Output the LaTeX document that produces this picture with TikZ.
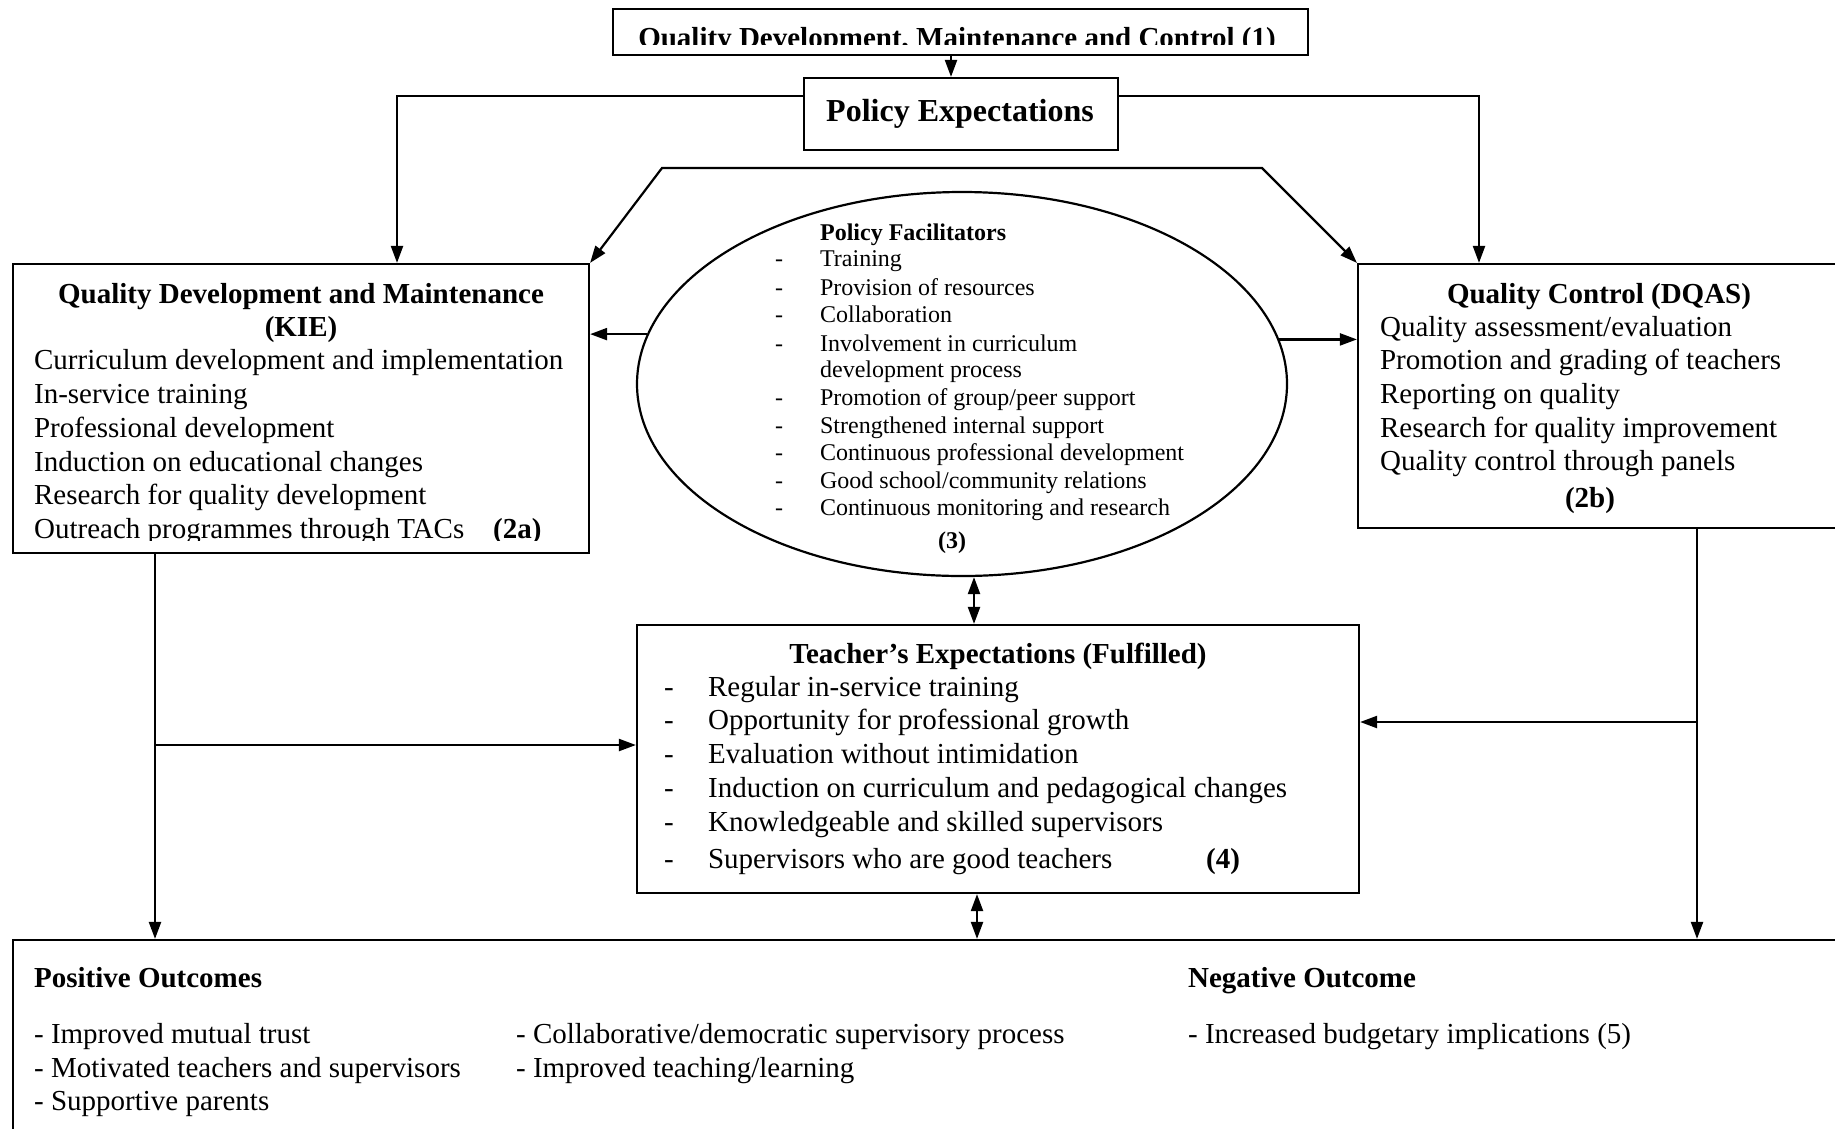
\documentclass[tikz,border=0pt]{standalone}
\usepackage{fontspec}
\setmainfont{Liberation Serif}
\usetikzlibrary{arrows.meta,shapes.geometric}
\begin{document}
\begin{tikzpicture}[x=1pt,y=-1pt, line width=2.2pt,
  box/.style={draw, rectangle, inner sep=0pt},
  txt/.style={inner sep=0pt, anchor=base west, font=\fontsize{29}{34}\selectfont},
  txtb/.style={inner sep=0pt, anchor=base west, font=\fontsize{29}{34}\selectfont\bfseries},
  sml/.style={inner sep=0pt, anchor=base west, font=\fontsize{24}{27.5}\selectfont},
  smlb/.style={inner sep=0pt, anchor=base west, font=\fontsize{24}{27.5}\selectfont\bfseries},
  arr/.style={-{Triangle[length=17pt,width=12pt]}},
  darr/.style={{Triangle[length=17pt,width=12pt]}-{Triangle[length=17pt,width=12pt]}}]
\clip (0,0) rectangle (1835,1128);
\fill[white] (0,0) rectangle (1835,1128);

% boxes
\node[box, minimum width=695pt, minimum height=46pt] (top) at (960.5,32) {};
\node[box, minimum width=314pt, minimum height=72pt] (pe) at (961,114) {};
\node[box, minimum width=576pt, minimum height=289pt] (lb) at (301,408.5) {};
\node[box, minimum width=502pt, minimum height=264pt] (rb) at (1609,396) {};
\node[draw, ellipse, minimum width=650pt, minimum height=384pt, inner sep=0pt] (ell) at (962,384) {};
\node[box, minimum width=722pt, minimum height=268pt] (te) at (998,759) {};
\node[box, minimum width=1847pt, minimum height=220pt] (out) at (936.5,1050) {};

% top box text (clipped at the bottom as in the scan)
\begin{scope}
  \clip (top.north west) rectangle (top.east |- 0,44);
  \node[txtb, anchor=base] (toptxt) at (957,47) {Quality Development, Maintenance and Control (1)};
\end{scope}

\node[inner sep=0pt, anchor=base, font=\fontsize{32}{36}\selectfont\bfseries] (petxt) at (960,121) {Policy Expectations};

% left box
\node[txtb, anchor=base] (lbt1) at (301,303) {Quality Development and Maintenance};
\node[txtb, anchor=base] (lbt2) at (301,336) {(KIE)};
\node[txt] (lb1) at (33,369) {Curriculum development and implementation};
\node[txt] (lb2) at (33,403) {In-service training};
\node[txt] (lb3) at (33,437) {Professional development};
\node[txt] (lb4) at (33,471) {Induction on educational changes};
\node[txt] (lb5) at (33,504) {Research for quality development};
\begin{scope}
  \clip (13,500) rectangle (589,540.5);
  \node[txt] (lb6) at (33,538) {Outreach programmes through TACs};
  \node[txtb] (lb7) at (492,538) {(2a)};
\end{scope}

% right box
\node[txtb, anchor=base] (rbt) at (1599,303) {Quality Control (DQAS)};
\node[txt] (rb1) at (1379,336) {Quality assessment/evaluation};
\node[txt] (rb2) at (1379,369) {Promotion and grading of teachers};
\node[txt] (rb3) at (1379,403) {Reporting on quality};
\node[txt] (rb4) at (1379,437) {Research for quality improvement};
\node[txt] (rb5) at (1379,470) {Quality control through panels};
\node[txtb, anchor=base] (rb6) at (1590,507) {(2b)};

% ellipse
\node[smlb] (et) at (819,240) {Policy Facilitators};
\foreach \y/\t [count=\i] in {266/{Training}, 295/{Provision of resources}, 322/{Collaboration},
   351/{Involvement in curriculum}, 405/{Promotion of group/peer support},
   433/{Strengthened internal support}, 460/{Continuous professional development},
   488/{Good school/community relations}, 515/{Continuous monitoring and research}}{
  \node[sml] (ed\i) at (774,\y) {-};
  \node[sml] (ei\i) at (819,\y) {\t};
}
\node[sml] (eic) at (819,377) {development process};
\node[smlb, anchor=base] (e3) at (952,548) {(3)};

% teacher box
\node[txtb, anchor=base] (tet) at (998,663) {Teacher’s Expectations (Fulfilled)};
\foreach \y/\t [count=\i] in {696/{Regular in-service training}, 729/{Opportunity for professional growth},
   763/{Evaluation without intimidation}, 797/{Induction on curriculum and pedagogical changes},
   831/{Knowledgeable and skilled supervisors}, 868/{Supervisors who are good teachers}}{
  \node[txt] (td\i) at (663,\y) {-};
  \node[txt] (ti\i) at (707,\y) {\t};
}
\node[txtb] (t4) at (1205,868) {(4)};

% outcomes
\node[txtb] (po) at (33,987) {Positive Outcomes};
\node[txtb] (no) at (1187,987) {Negative Outcome};
\node[txt] (o1) at (33,1043) {- Improved mutual trust};
\node[txt] (o2) at (33,1077) {- Motivated teachers and supervisors};
\node[txt] (o3) at (33,1110) {- Supportive parents};
\node[txt] (o4) at (515,1043) {- Collaborative/democratic supervisory process};
\node[txt] (o5) at (515,1077) {- Improved teaching/learning};
\node[txt] (o6) at (1187,1043) {- Increased budgetary implications (5)};

% connectors
\coordinate (ta) at (951,0);
\draw[arr] (top.south -| ta) -- (pe.north -| ta);
\coordinate (pl) at (397,96);
\coordinate (pr) at (1479,96);
\draw[arr] (pe.west |- pl) -- (pl) -- (pl |- lb.north);
\draw[arr] (pe.east |- pr) -- (pr) -- (pr |- rb.north);
\coordinate (tl) at (662,168);
\coordinate (tr) at (1262,168);
\draw[darr] (lb.north east) -- (tl) -- (tr) -- (rb.north west);
\draw[arr] (ell.171.5) -- (lb.east |- ell.171.5);
\draw[arr] (ell.8.3) -- (rb.west |- ell.8.3);
\coordinate (ma) at (974,0);
\draw[darr] (ell.south -| ma) -- (te.north -| ma);
\coordinate (mb) at (977,0);
\draw[darr] (te.south -| mb) -- (out.north -| mb);
\coordinate (lx) at (155,745);
\draw[arr] (lb.south -| lx) -- (lx |- out.north);
\draw[arr] (lx) -- (te.west |- lx);
\coordinate (rx) at (1697,722);
\draw[arr] (rb.south -| rx) -- (rx |- out.north);
\draw[arr] (rx) -- (te.east |- rx);
\end{tikzpicture}
\end{document}
